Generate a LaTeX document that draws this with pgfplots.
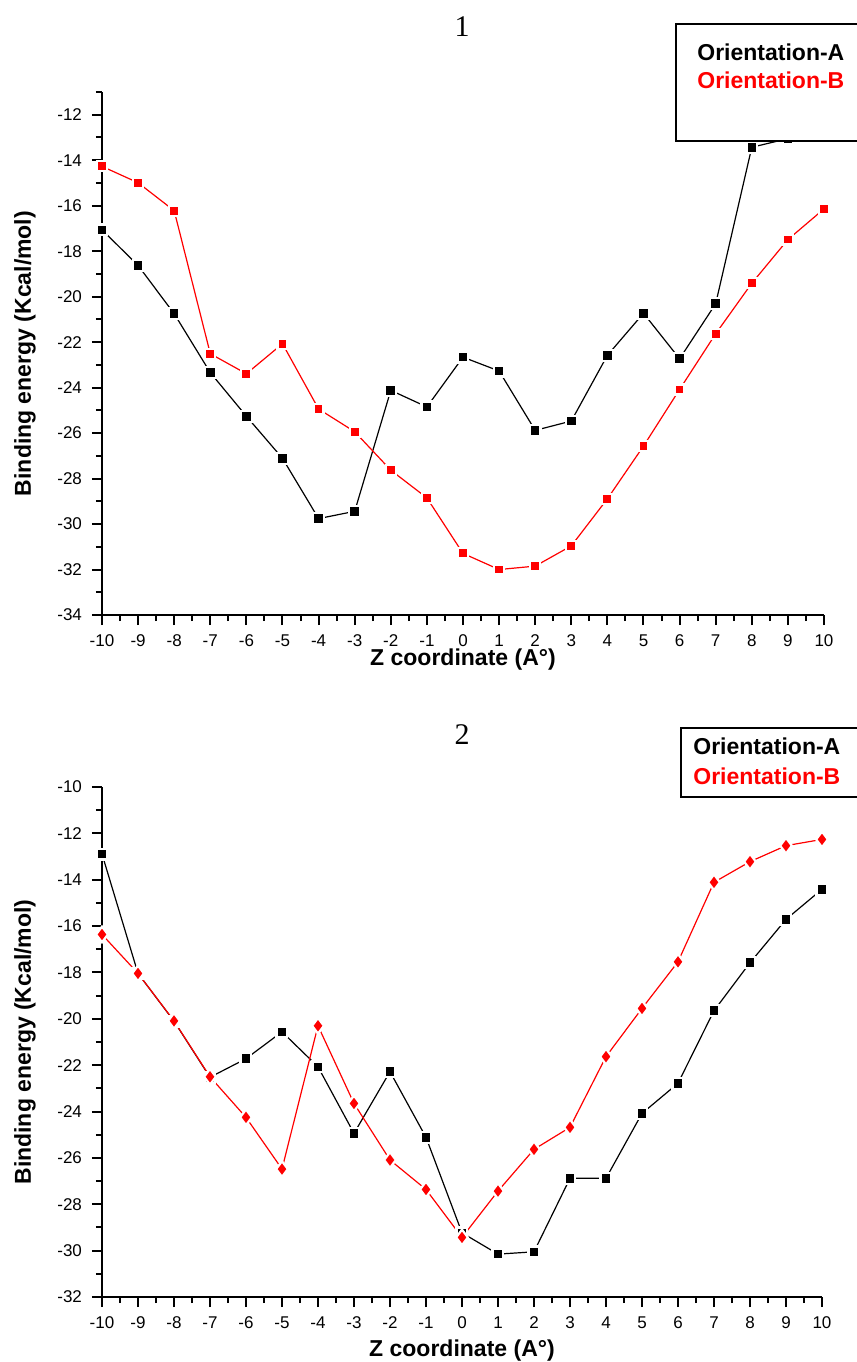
\documentclass[border=0pt]{standalone}
\usepackage{fontspec}
\setmainfont{Liberation Sans}
\newfontfamily\titlefont{Liberation Serif}
\usepackage{pgfplots}
\pgfplotsset{compat=1.18}

\pgfplotsset{
  energyaxis/.style={
    scale only axis,
    axis lines*=left,
    xmin=-10, xmax=10,
    xtick={-10,...,10},
    minor xtick={-9.5,-8.5,...,9.5},
    tick align=outside,
    major tick length=5pt, minor tick length=3pt,
    tick style={line width=1pt, black},
    axis line style={line width=1.1pt},
    tick label style={font=\fontsize{8.5}{10}\selectfont},
    xticklabel style={yshift=-1.5pt},
    yticklabel style={xshift=-1.5pt},
    /pgf/number format/assume math mode=true,
    label style={font=\bfseries\fontsize{11.5}{13}\selectfont},
    xlabel={Z coordinate (A°)},
    ylabel={Binding energy (Kcal/mol)},
  },
  orientA/.style={black, line width=0.6pt, mark=square*, mark size=2.7pt,
    mark options={fill=black, draw=white, line width=1.1pt}},
  orientB/.style={red, line width=0.6pt, mark=square*, mark size=2.5pt,
    mark options={fill=red, draw=white, line width=1.1pt}},
  orientBd/.style={red, line width=0.6pt, mark=diamond*, mark size=3.9pt,
    mark options={fill=red, draw=white, line width=1.1pt}},
}

\begin{document}
\begin{tikzpicture}
\useasboundingbox (0,0) rectangle (428.5pt,-681pt);

% ---- panel 1 ----
\begin{axis}[energyaxis,
  at={(51pt,-307.5pt)}, anchor=south west,
  width=361pt, height=261.5pt,
  ymin=-34, ymax=-11,
  ytick={-34,-32,...,-12},
  minor ytick={-33,-31,...,-11},
  xlabel style={at={(axis description cs:0.5,-0.086)}, anchor=center},
  ylabel style={at={(axis description cs:-0.1066,0.5)}, anchor=center},
]
\addplot[orientA] coordinates {
  (-10,-17.06) (-9,-18.63) (-8,-20.75) (-7,-23.34) (-6,-25.26) (-5,-27.11)
  (-4,-29.76) (-3,-29.44) (-2,-24.12) (-1,-24.85) (0,-22.66) (1,-23.27)
  (2,-25.88) (3,-25.47) (4,-22.58) (5,-20.73) (6,-22.73) (7,-20.31)
  (8,-13.43) (9,-13.05) (10,-12.6)
};
\addplot[orientB] coordinates {
  (-10,-14.27) (-9,-14.99) (-8,-16.22) (-7,-22.51) (-6,-23.39) (-5,-22.07)
  (-4,-24.94) (-3,-25.94) (-2,-27.63) (-1,-28.85) (0,-31.29) (1,-32.0)
  (2,-31.85) (3,-30.96) (4,-28.89) (5,-26.57) (6,-24.08) (7,-21.63)
  (8,-19.41) (9,-17.49) (10,-16.14)
};
\end{axis}

% ---- panel 2 ----
\begin{axis}[energyaxis,
  at={(51pt,-648.5pt)}, anchor=south west,
  width=360pt, height=255pt,
  ymin=-32, ymax=-10,
  ytick={-32,-30,...,-10},
  minor ytick={-31,-29,...,-11},
  xlabel style={at={(axis description cs:0.5,-0.104)}, anchor=center},
  ylabel style={at={(axis description cs:-0.107,0.5)}, anchor=center},
]
\addplot[orientA] coordinates {
  (-10,-12.89) (-9,-18.04) (-8,-20.1) (-7,-22.52) (-6,-21.72) (-5,-20.56)
  (-4,-22.07) (-3,-24.94) (-2,-22.28) (-1,-25.11) (0,-29.23) (1,-30.15)
  (2,-30.05) (3,-26.88) (4,-26.88) (5,-24.08) (6,-22.78) (7,-19.65)
  (8,-17.58) (9,-15.71) (10,-14.41)
};
\addplot[orientBd] coordinates {
  (-10,-16.36) (-9,-18.04) (-8,-20.09) (-7,-22.5) (-6,-24.25) (-5,-26.48)
  (-4,-20.3) (-3,-23.65) (-2,-26.09) (-1,-27.36) (0,-29.43) (1,-27.43)
  (2,-25.63) (3,-24.68) (4,-21.63) (5,-19.55) (6,-17.54) (7,-14.11)
  (8,-13.22) (9,-12.53) (10,-12.26)
};
\end{axis}

% panel titles
\node[font=\titlefont\fontsize{15}{17}\selectfont] at (231pt,-13.5pt) {1};
\node[font=\titlefont\fontsize{15}{17}\selectfont] at (231pt,-367.5pt) {2};

% legend boxes
\draw[line width=1pt, fill=white] (338pt,-12pt) rectangle (440pt,-70.5pt);
\node[anchor=west, inner sep=0pt, font=\bfseries\fontsize{11.5}{13}\selectfont] at (348.5pt,-26pt) {Orientation-A};
\node[anchor=west, inner sep=0pt, red, font=\bfseries\fontsize{11.5}{13}\selectfont] at (348.5pt,-40pt) {Orientation-B};

\draw[line width=1pt, fill=white] (340.5pt,-364pt) rectangle (440pt,-398.5pt);
\node[anchor=west, inner sep=0pt, font=\bfseries\fontsize{11.5}{13}\selectfont] at (346.5pt,-373.3pt) {Orientation-A};
\node[anchor=west, inner sep=0pt, red, font=\bfseries\fontsize{11.5}{13}\selectfont] at (346.5pt,-388.3pt) {Orientation-B};
\end{tikzpicture}
\end{document}
